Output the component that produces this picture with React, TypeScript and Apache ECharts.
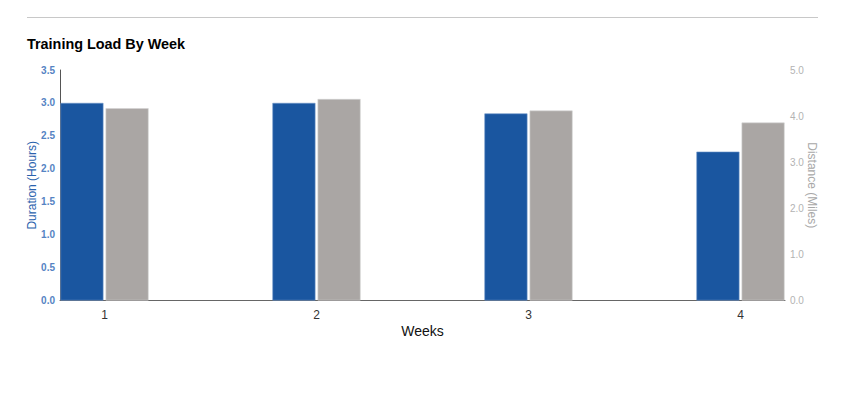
import React, { useEffect, useRef } from "react";
import * as echarts from "echarts";

const weeks = ["1", "2", "3", "4"];
const durationHours = [3.0, 3.0, 2.84, 2.26];
const distanceMiles = [4.17, 4.37, 4.12, 3.86];
const durationTicks = { min: 0, max: 3.5, interval: 0.5 };
const distanceTicks = { min: 0, max: 5, interval: 1 };

const FONT = "'Liberation Sans', Arial, Helvetica, sans-serif";

export default function App() {
  const ref = useRef<HTMLDivElement | null>(null);
  useEffect(() => {
    if (!ref.current) return;
    const chart = echarts.init(ref.current, undefined, { renderer: "svg" });
    const fmt = (v: number) => v.toFixed(1);
    chart.setOption({
      animation: false,
      textStyle: { fontFamily: FONT },
      title: {
        text: "Training Load By Week",
        left: 22,
        top: 32,
        textStyle: { fontSize: 14.4, fontWeight: "bold", color: "#000", fontFamily: FONT },
      },
      graphic: [
        {
          type: "line",
          shape: { x1: 27, y1: 17.5, x2: 818, y2: 17.5 },
          style: { stroke: "#c8c8c8", lineWidth: 1 },
        },
      ],
      grid: [
        { left: 60, right: 61, top: 70, bottom: 92.5 },
        { left: 104.5, right: 105.5, top: 70, bottom: 92.5 },
      ],
      xAxis: [
        {
          type: "category",
          gridIndex: 0,
          data: weeks,
          axisLine: { show: true, lineStyle: { color: "#666", width: 1 } },
          axisTick: { show: false },
          axisLabel: { show: false },
          name: "Weeks",
          nameLocation: "middle",
          nameGap: 23,
          nameMoveOverlap: false,
          nameTextStyle: { fontSize: 14, color: "#111", fontFamily: FONT },
        },
        {
          type: "category",
          gridIndex: 1,
          data: weeks,
          boundaryGap: false,
          axisLine: { show: false },
          axisTick: { show: false },
          axisLabel: { show: true, fontSize: 12, color: "#333", margin: 8, fontFamily: FONT },
        },
      ],
      yAxis: [
        {
          type: "value",
          gridIndex: 0,
          position: "left",
          ...durationTicks,
          axisLine: { show: true, lineStyle: { color: "#555", width: 1 } },
          axisTick: { show: false },
          splitLine: { show: false },
          axisLabel: { fontSize: 10, fontWeight: "bold", color: "#5583c3", margin: 5, formatter: fmt, fontFamily: FONT },
          name: "Duration (Hours)",
          nameLocation: "middle",
          nameGap: 22,
          nameMoveOverlap: false,
          nameTextStyle: { fontSize: 12, color: "#2a62ad", fontFamily: FONT },
        },
        {
          type: "value",
          gridIndex: 0,
          position: "right",
          ...distanceTicks,
          axisLine: { show: false },
          axisTick: { show: false },
          splitLine: { show: false },
          axisLabel: { fontSize: 10, color: "#b3b3b3", margin: 5, formatter: fmt, fontFamily: FONT },
          name: "Distance (Miles)",
          nameLocation: "middle",
          nameRotate: -90,
          nameGap: 21,
          nameMoveOverlap: false,
          nameTextStyle: { fontSize: 12, color: "#a8a8a8", fontFamily: FONT },
        },
        {
          type: "value",
          gridIndex: 1,
          ...durationTicks,
          show: false,
        },
        {
          type: "value",
          gridIndex: 1,
          ...distanceTicks,
          show: false,
        },
      ],
      series: [
        {
          name: "Duration",
          type: "bar",
          xAxisIndex: 1,
          yAxisIndex: 2,
          data: durationHours,
          barWidth: 43,
          barGap: "5%",
          itemStyle: { color: "#1a56a0", borderColor: "#6b93c8", borderWidth: 0.6 },
        },
        {
          name: "Distance",
          type: "bar",
          xAxisIndex: 1,
          yAxisIndex: 3,
          data: distanceMiles,
          barWidth: 43,
          barGap: "5%",
          itemStyle: { color: "#aaa6a4", borderColor: "#d4d2d1", borderWidth: 0.6 },
        },
      ],
    });
    return () => chart.dispose();
  }, []);
  return (
    <div
      ref={ref}
      style={{ position: "fixed", left: 0, top: 0, width: 846, height: 393, background: "#fff" }}
    />
  );
}
